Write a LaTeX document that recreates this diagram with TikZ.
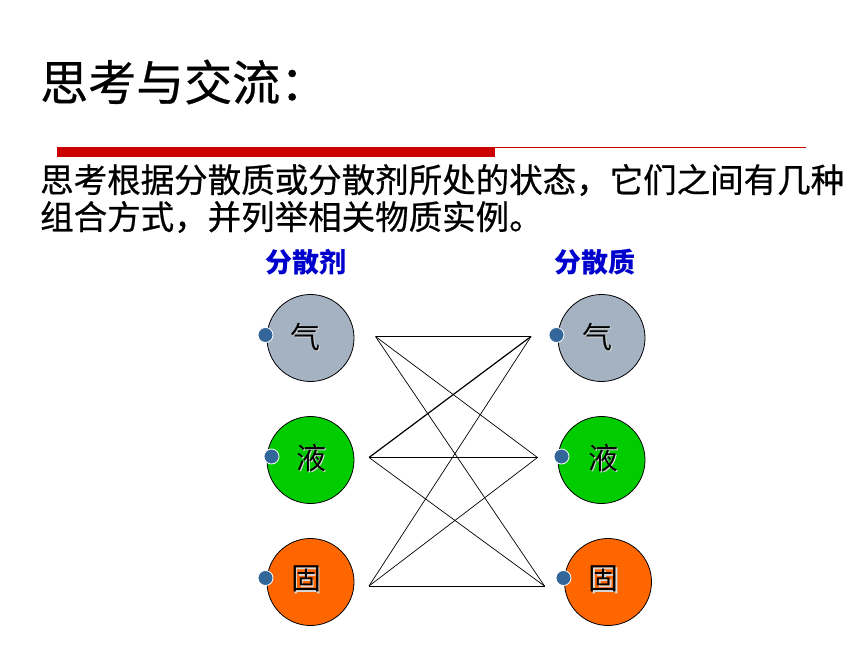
\documentclass[tikz,border=0pt]{standalone}
\usepackage{fontspec}
\setmainfont{Noto Sans CJK SC}
\newfontfamily\cjk{Noto Sans CJK SC}
\newfontfamily\cjkh[FakeBold=0.6]{Noto Sans CJK SC}
\definecolor{redbar}{RGB}{204,0,0}
\definecolor{lblblue}{RGB}{0,0,204}
\definecolor{gasfill}{RGB}{164,178,194}
\definecolor{liqfill}{RGB}{0,204,0}
\definecolor{solfill}{RGB}{255,102,0}
\definecolor{dotblue}{RGB}{51,102,153}
\begin{document}
\begin{tikzpicture}[x=1pt,y=-1pt,
  state/.style={circle,draw=black,line width=0.8pt,minimum size=87pt,inner sep=0pt},
  dotmark/.style={circle,fill=dotblue,draw=white,line width=0.8pt,minimum size=15pt,inner sep=0pt},
  statetxt/.style={font=\cjk\fontsize{30}{30}\selectfont,inner sep=0pt},
  link/.style={draw=black,line width=0.7pt},
  lbl/.style={font=\cjk\bfseries\fontsize{27}{27}\selectfont,text=lblblue,inner sep=0pt}]
\useasboundingbox[fill=white] (0,0) rectangle (860,645);
% title
\node[anchor=west,inner sep=0pt,font=\cjkh\fontsize{48}{48}\selectfont] (title) at (40,82) {思考与交流：};
% red rule
\fill[redbar] (57,147) rectangle (495,157);
\draw[redbar,line width=1.3pt] (495,147.5) -- (806,147.5);
% question text
\node[anchor=west,inner sep=0pt,font=\cjkh\fontsize{33.5}{33.5}\selectfont] (q1) at (40,180) {思考根据分散质或分散剂所处的状态，它们之间有几种};
\node[anchor=west,inner sep=0pt,font=\cjkh\fontsize{33.5}{33.5}\selectfont] (q2) at (40,217) {组合方式，并列举相关物质实例。};
% headers
\node[lbl] (hl) at (306,262) {分散剂};
\node[lbl] (hr) at (595,262) {分散质};
% left circles
\node[state,fill=gasfill] (lg) at (310.5,338) {};
\node[state,fill=liqfill] (ll) at (310.5,460) {};
\node[state,fill=solfill] (ls) at (310.5,582) {};
% right circles
\node[state,fill=gasfill] (rg) at (601.5,338) {};
\node[state,fill=liqfill] (rl) at (601.5,460) {};
\node[state,fill=solfill] (rs) at (608,582) {};
% circle texts with light shadow
\foreach \n/\x/\y/\t in {tlg/305/337/气,tll/311/458/液,tls/306/579/固,trg/597/337/气,trl/603/458/液,trs/603.5/579/固}{
  \node[statetxt,text=white!70!gray] at (\x+1.5,\y+1.5) {\t};
  \node[statetxt,text=black] (\n) at (\x,\y) {\t};
}
% dots
\node[dotmark] (dlg) at (265.5,335) {};
\node[dotmark] (dll) at (271.5,456.5) {};
\node[dotmark] (dls) at (265.5,578) {};
\node[dotmark] (drg) at (556.5,335) {};
\node[dotmark] (drl) at (561.5,456.5) {};
\node[dotmark] (drs) at (563.5,578) {};
% connector ends
\coordinate (a1) at (375.5,336.5);
\coordinate (a2) at (369,457.5);
\coordinate (a3) at (369,586);
\coordinate (b1) at (531,336.5);
\coordinate (b2) at (537.5,457.5);
\coordinate (b3) at (544.5,586);
\foreach \a in {a1,a3}{
  \foreach \b in {b1,b2,b3}{
    \draw[link] (\a) -- (\b);
  }
}
\draw[link] (a2) -- (b2);
\draw[link] (a2) -- (b3);
\draw[draw=black,line width=1.2pt] (a2) -- (b1);
\end{tikzpicture}
\end{document}
